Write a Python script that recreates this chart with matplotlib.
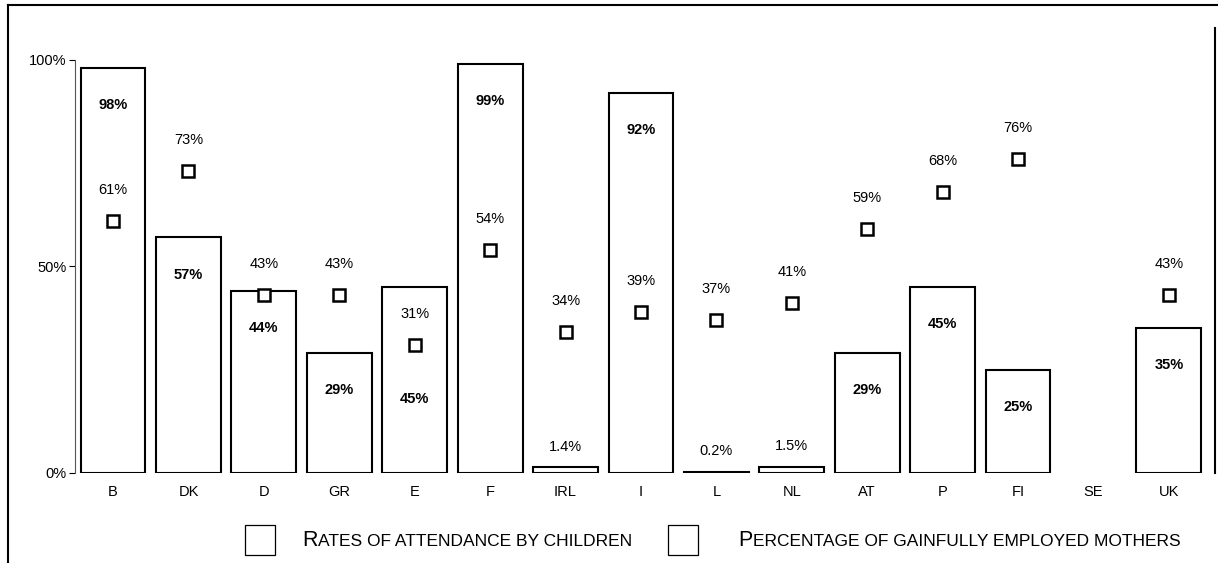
import numpy as np
import matplotlib
matplotlib.use("Agg")
import matplotlib.pyplot as plt
from matplotlib.lines import Line2D
from matplotlib.patches import Rectangle

plt.rcParams['font.family'] = ['Liberation Sans', 'DejaVu Sans']

countries = ["B", "DK", "D", "GR", "E", "F", "IRL", "I", "L", "NL", "AT", "P", "FI", "SE", "UK"]
# rates of attendance by children (%), SE has no value
attendance = [98, 57, 44, 29, 45, 99, 1.4, 92, 0.2, 1.5, 29, 45, 25, np.nan, 35]
# percentage of gainfully employed mothers (%)
mothers = [61, 73, 43, 43, 31, 54, 34, 39, 37, 41, 59, 68, 76, np.nan, 43]
yticks = [0, 50, 100]
legend_labels = ["Rates of attendance by children", "Percentage of gainfully employed mothers"]


def fmt(v):
    return f"{v:g}%"


fig = plt.figure(figsize=(12.18, 5.63), dpi=100)
ax = fig.add_axes([0.0616, 0.1599, 0.9278, 0.771])

x = np.arange(len(countries))
ax.bar(x, attendance, width=0.86, facecolor="white", edgecolor="black", linewidth=1.5, zorder=2)
ax.plot(x, mothers, linestyle="none", marker="s", markersize=8.5, markerfacecolor="white",
        markeredgecolor="black", markeredgewidth=1.8, zorder=3)

for i in range(len(countries)):
    a, m = attendance[i], mothers[i]
    if not np.isnan(m):
        ax.text(i, m + 7.5, fmt(m), ha="center", va="center", fontsize=10.5, zorder=4)
    if np.isnan(a):
        continue
    if a < 5:
        ax.text(i, a + 5, fmt(a), ha="center", va="center", fontsize=10.5, zorder=4)
    else:
        ya = a - 9
        if 0 <= ya - m < 10:
            ya = m - 13
        ax.text(i, ya, fmt(a), ha="center", va="center", fontsize=10.5, fontweight="bold", zorder=4)

ax.set_xlim(-0.504, 14.48)
ax.set_ylim(0, 105)
ax.set_xticks(x)
ax.set_xticklabels(countries, fontsize=10.5)
ax.tick_params(axis="x", length=0, pad=9)
ax.set_yticks(yticks)
ax.set_yticklabels([f"{t}%" for t in yticks], fontsize=10.5)
ax.tick_params(axis="y", length=4, width=0.8, pad=2)
for s in ["top", "right", "bottom"]:
    ax.spines[s].set_visible(False)
ax.spines["left"].set_linewidth(0.8)
ax.spines["left"].set_color("#555555")
ax.spines["left"].set_bounds(0, 100)

# frame of the scanned figure
W, H = 1218, 563
def fline(x0, y0, x1, y1, lw=1.5):
    fig.add_artist(Line2D([x0 / W, x1 / W], [1 - y0 / H, 1 - y1 / H], color="black", linewidth=lw))

fline(8, 5, 1218, 5)
fline(8, 5, 8, 563)
fline(1215, 28, 1215, 473)

# legend with small caps text
fig.canvas.draw()
renderer = fig.canvas.get_renderer()


def small_caps(xpx, ypx, label):
    xf = xpx / W
    yf = 1 - ypx / H
    first = fig.text(xf, yf, label[0].upper(), fontsize=15.5, va="baseline")
    bb = first.get_window_extent(renderer)
    fig.text(bb.x1 / W + 0.0005, yf, label[1:].upper(), fontsize=12.5, va="baseline")


for bx, tx, lab in [(245, 302, legend_labels[0]), (668, 738, legend_labels[1])]:
    fig.add_artist(Rectangle((bx / W, 1 - 555 / H), 30 / W, 30 / H, transform=fig.transFigure,
                             facecolor="white", edgecolor="black", linewidth=0.9))
    small_caps(tx, 546, lab)

fig.savefig("out.png", dpi=100)
